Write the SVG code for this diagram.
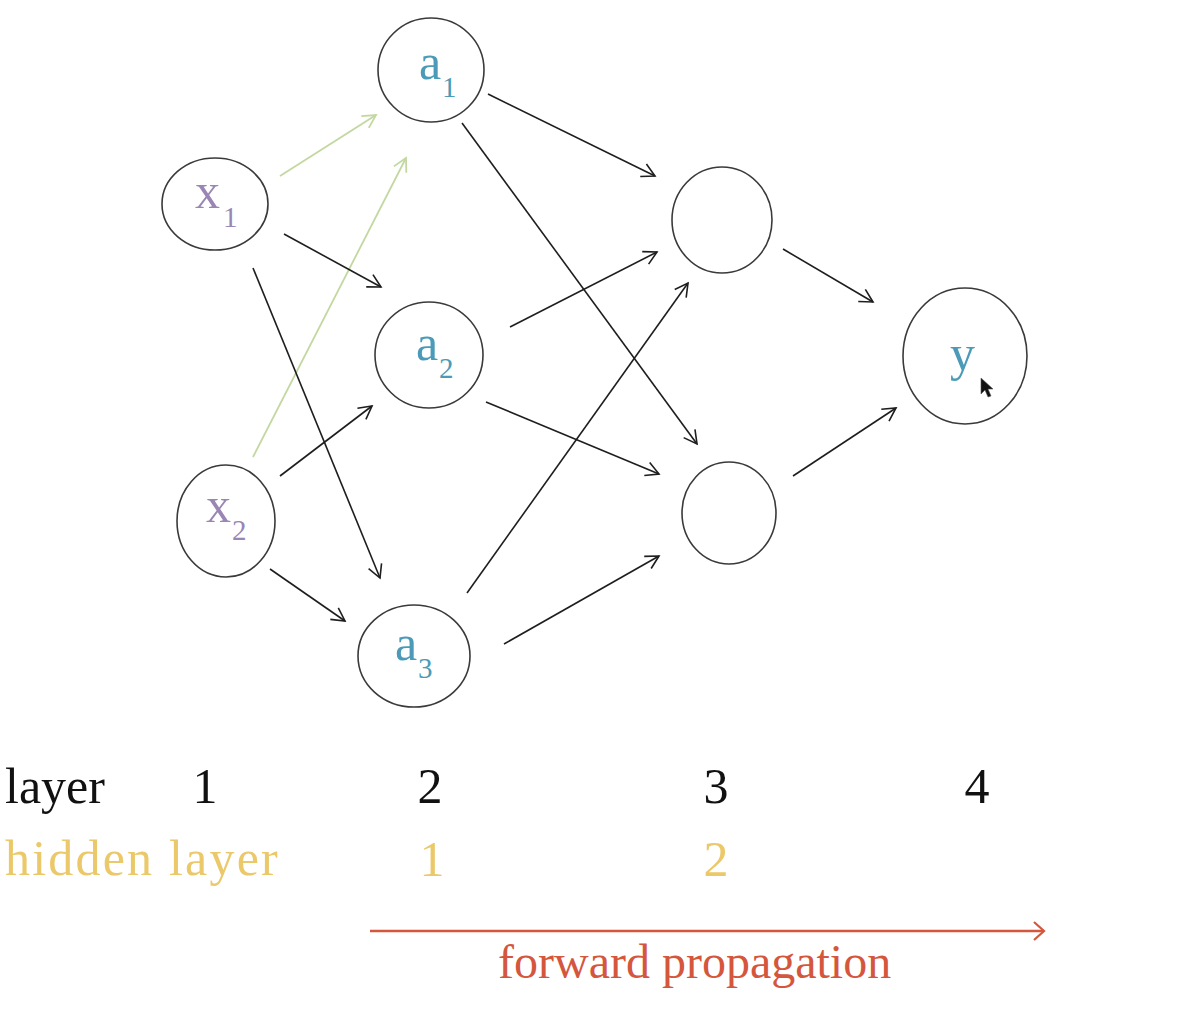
<svg xmlns="http://www.w3.org/2000/svg" width="1189" height="1016" viewBox="0 0 1189 1016">
<defs>
<style>
.node{fill:none;stroke:#3a3a3a;stroke-width:1.6}
.lbl{font-family:"Liberation Serif","DejaVu Serif",serif;font-size:50px}
.sub{font-family:"Liberation Serif","DejaVu Serif",serif;font-size:29px}
.in{fill:#9a86b4}
.hid{fill:#4b9bb8}
.edge{fill:none;stroke:#1e1e1e;stroke-width:1.6}
.green{fill:none;stroke:#c3d8a0;stroke-width:1.8}
.txt{font-family:"Liberation Serif","DejaVu Serif",serif;font-size:50px}
.fwd{font-family:"Liberation Serif","DejaVu Serif",serif;font-size:48px;fill:#d4573d}
</style>
<marker id="ah" viewBox="-14 -8 16 16" markerWidth="16" markerHeight="16" refX="0" refY="0" orient="auto" markerUnits="userSpaceOnUse">
<path d="M-13,-7 L0,0 L-13,7" fill="none" stroke="#1e1e1e" stroke-width="1.6"/>
</marker>
<marker id="ahg" viewBox="-14 -8 16 16" markerWidth="16" markerHeight="16" refX="0" refY="0" orient="auto" markerUnits="userSpaceOnUse">
<path d="M-13,-7 L0,0 L-13,7" fill="none" stroke="#c3d8a0" stroke-width="1.8"/>
</marker>
<marker id="ahr" viewBox="-14 -10 16 20" markerWidth="16" markerHeight="20" refX="0" refY="0" orient="auto" markerUnits="userSpaceOnUse">
<path d="M-10,-9 L0,0 L-10,9" fill="none" stroke="#d4573d" stroke-width="2.2"/>
</marker>
</defs>
<rect width="1189" height="1016" fill="#ffffff"/>

<g id="connectors">
<line class="green" x1="280" y1="176" x2="376" y2="115" marker-end="url(#ahg)"/>
<line class="green" x1="253" y1="457" x2="406" y2="158" marker-end="url(#ahg)"/>
<line class="edge" x1="284" y1="234" x2="381" y2="287" marker-end="url(#ah)"/>
<line class="edge" x1="253" y1="268" x2="380" y2="578" marker-end="url(#ah)"/>
<line class="edge" x1="280" y1="476" x2="372" y2="406" marker-end="url(#ah)"/>
<line class="edge" x1="270" y1="569" x2="345" y2="621" marker-end="url(#ah)"/>
<line class="edge" x1="488" y1="94" x2="655" y2="176" marker-end="url(#ah)"/>
<line class="edge" x1="462" y1="123" x2="697" y2="444" marker-end="url(#ah)"/>
<line class="edge" x1="510" y1="327" x2="657" y2="252" marker-end="url(#ah)"/>
<line class="edge" x1="486" y1="402" x2="659" y2="474" marker-end="url(#ah)"/>
<line class="edge" x1="467" y1="593" x2="688" y2="283" marker-end="url(#ah)"/>
<line class="edge" x1="504" y1="644" x2="659" y2="556" marker-end="url(#ah)"/>
<line class="edge" x1="783" y1="249" x2="873" y2="302" marker-end="url(#ah)"/>
<line class="edge" x1="793" y1="476" x2="896" y2="408" marker-end="url(#ah)"/>
</g>

<g id="node-x1">
<ellipse class="node" cx="215" cy="204" rx="53" ry="46"/>
<text class="lbl in" x="195" y="208">x</text>
<text class="sub in" x="223" y="227">1</text>
</g>
<g id="node-x2">
<ellipse class="node" cx="226" cy="521" rx="49" ry="56"/>
<text class="lbl in" x="206" y="522">x</text>
<text class="sub in" x="232" y="540">2</text>
</g>
<g id="node-a1">
<ellipse class="node" cx="431" cy="70" rx="53" ry="52"/>
<text class="lbl hid" x="419" y="79">a</text>
<text class="sub hid" x="442" y="97">1</text>
</g>
<g id="node-a2">
<ellipse class="node" cx="429" cy="355" rx="54" ry="53"/>
<text class="lbl hid" x="416" y="360">a</text>
<text class="sub hid" x="439" y="378">2</text>
</g>
<g id="node-a3">
<ellipse class="node" cx="414" cy="656" rx="56" ry="51"/>
<text class="lbl hid" x="395" y="660">a</text>
<text class="sub hid" x="418" y="678">3</text>
</g>
<g id="node-h1">
<ellipse class="node" cx="722" cy="220" rx="50" ry="53"/>
</g>
<g id="node-h2">
<ellipse class="node" cx="729" cy="513" rx="47" ry="51"/>
</g>
<g id="node-y">
<ellipse class="node" cx="965" cy="356" rx="62" ry="68"/>
<text class="lbl hid" x="950" y="370">y</text>
</g>

<g id="cursor">
<path d="M981,378 L981,394 L985,390 L988,397 L991,396 L988,389 L993,389 Z" fill="#111" stroke="#555" stroke-width="0.6"/>
</g>

<g id="labels">
<text class="txt" x="5" y="803" fill="#111">layer</text>
<text class="txt" x="205" y="803" fill="#111" text-anchor="middle">1</text>
<text class="txt" x="430" y="803" fill="#111" text-anchor="middle">2</text>
<text class="txt" x="716" y="803" fill="#111" text-anchor="middle">3</text>
<text class="txt" x="977" y="803" fill="#111" text-anchor="middle">4</text>
<text class="txt" x="5" y="875" fill="#ebc96a" letter-spacing="2.2">hidden layer</text>
<text class="txt" x="432" y="876" fill="#ebc96a" text-anchor="middle">1</text>
<text class="txt" x="716" y="876" fill="#ebc96a" text-anchor="middle">2</text>
</g>

<g id="forward">
<line x1="370" y1="931" x2="1044" y2="931" stroke="#d4573d" stroke-width="2.6" marker-end="url(#ahr)"/>
<text class="fwd" x="498" y="978">forward propagation</text>
</g>
</svg>
